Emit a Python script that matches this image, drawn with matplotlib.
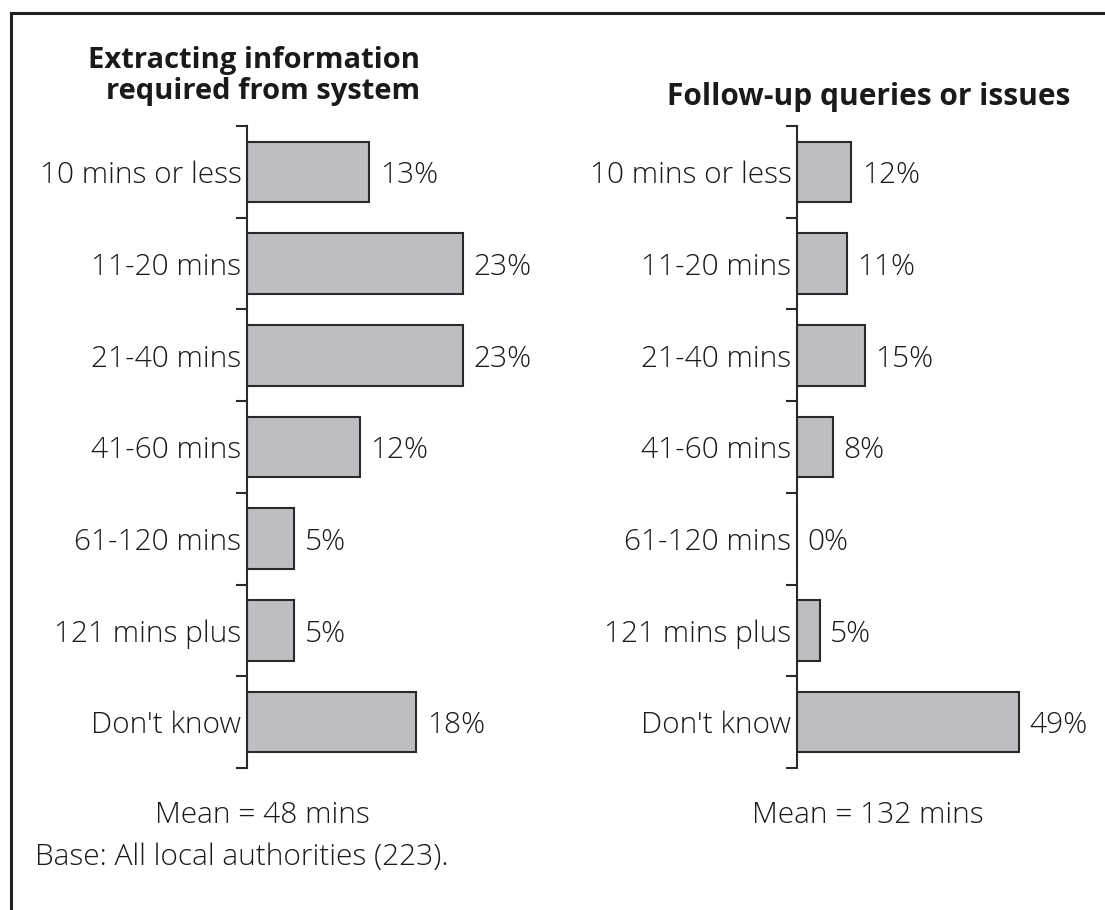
import matplotlib.pyplot as plt
from matplotlib.lines import Line2D

plt.rcParams["font.family"] = ["Open Sans", "DejaVu Sans"]

categories = ["10 mins or less", "11-20 mins", "21-40 mins", "41-60 mins",
              "61-120 mins", "121 mins plus", "Don't know"]
extract_pct = [13, 23, 23, 12, 5, 5, 18]
followup_pct = [12, 11, 15, 8, 0, 5, 49]

titles = ["Extracting information\nrequired from system", "Follow-up queries or issues"]
means = ["Mean = 48 mins", "Mean = 132 mins"]
base_note = "Base: All local authorities (223)."

W, H = 1105, 910
fig = plt.figure(figsize=(W / 100, H / 100), dpi=100)

bar_face = "#bdbec1"
edge = "#2a2a2a"
txt = "#1a1a1a"
fs = 21.5
fw = "light"


def draw_panel(left_px, width_px, xmax, values):
	ax = fig.add_axes([left_px / W, (H - 768) / H, width_px / W, 642 / H])
	pos = list(range(len(values)))
	ax.barh(pos, values, height=0.66, color=bar_face, edgecolor=edge, linewidth=1.5)
	ax.set_ylim(len(values) - 0.5, -0.5)
	ax.set_xlim(0, xmax)
	for s in ["top", "right", "bottom"]:
		ax.spines[s].set_visible(False)
	ax.spines["left"].set_linewidth(1.5)
	ax.spines["left"].set_color(edge)
	ax.set_xticks([])
	ax.set_yticks(pos)
	ax.set_yticklabels(categories, fontsize=fs, fontweight=fw, color=txt)
	ax.tick_params(axis="y", which="major", length=0, pad=4)
	ax.set_yticks([p - 0.5 for p in pos] + [len(pos) - 0.5], minor=True)
	ax.tick_params(axis="y", which="minor", length=8, width=1.5, color=edge, direction="out")
	for p, v in zip(pos, values):
		ax.annotate("%d%%" % v, (v, p), xytext=(7.5, 0), textcoords="offset points",
		            va="center_baseline", ha="left", fontsize=fs, fontweight=fw, color=txt,
		            annotation_clip=False)
	return ax


draw_panel(247, 9.4 * 30, 30, extract_pct)
draw_panel(797, 4.53 * 60, 60, followup_pct)

fig.text(420 / W, 1 - 76 / H, titles[0], ha="right", va="center", fontsize=21,
         fontweight="bold", color=txt, linespacing=1.08)
fig.text(1070 / W, 1 - 97 / H, titles[1], ha="right", va="center", fontsize=21.5,
         fontweight="bold", color=txt)

fig.text(262 / W, 1 - 812 / H, means[0], ha="center", va="center_baseline", fontsize=fs, fontweight=fw, color=txt)
fig.text(868 / W, 1 - 812 / H, means[1], ha="center", va="center_baseline", fontsize=fs, fontweight=fw, color=txt)
fig.text(35 / W, 1 - 854 / H, base_note, ha="left", va="center_baseline", fontsize=fs, fontweight=fw, color=txt)

# frame lines along the top and left edges
fig.add_artist(Line2D([11 / W, 11 / W], [0, 1 - 13 / H], color="#222222", linewidth=2.2))
fig.add_artist(Line2D([11 / W, 1], [1 - 13 / H, 1 - 13 / H], color="#222222", linewidth=2.2))

fig.savefig("out.png", dpi=100, facecolor="white")
